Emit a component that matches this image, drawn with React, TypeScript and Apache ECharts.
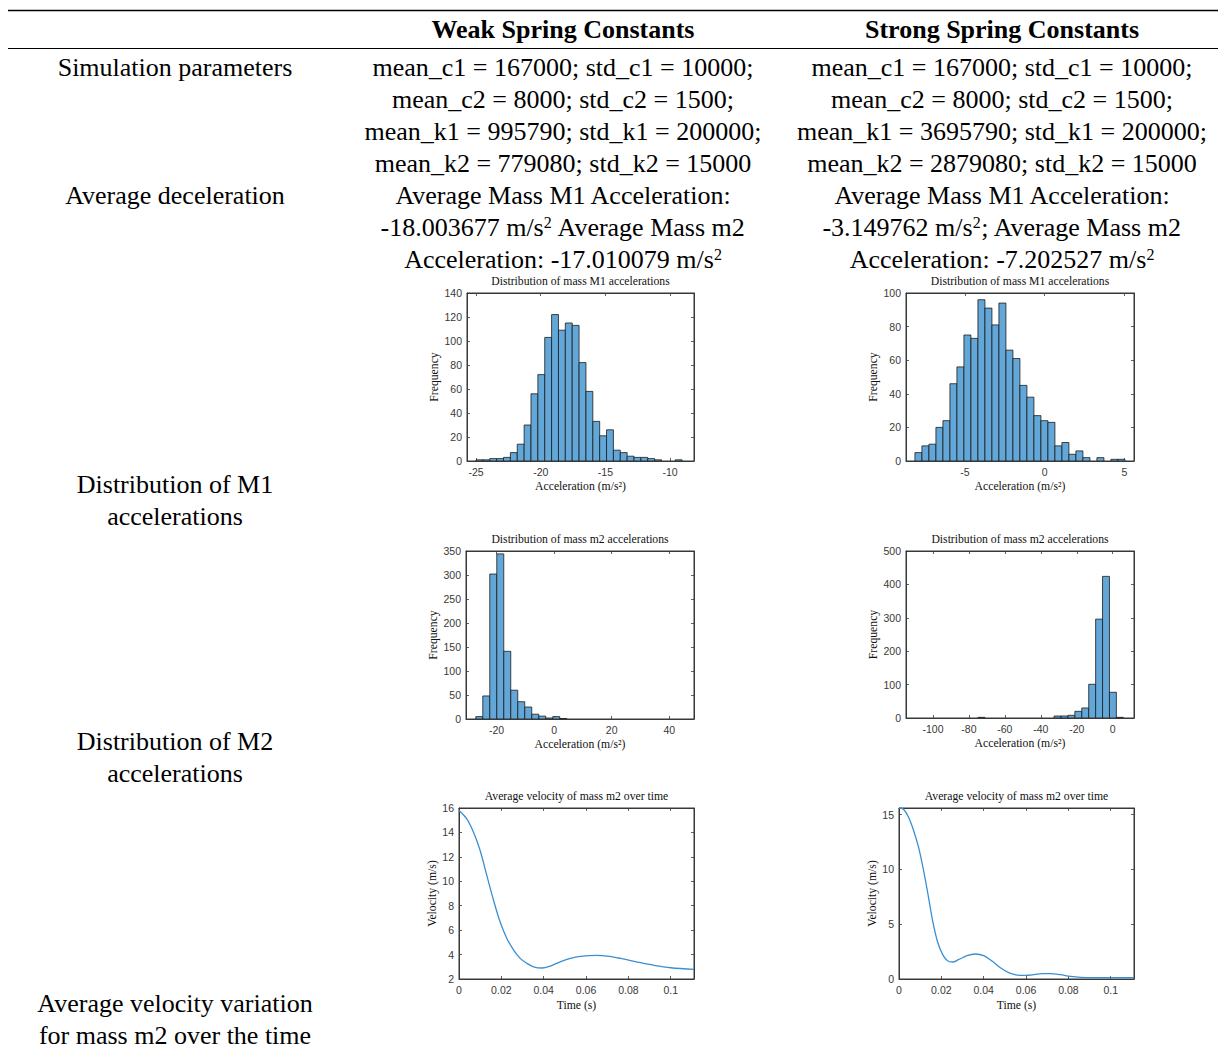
import React, { useEffect, useRef } from "react";
import * as echarts from "echarts";

// ---------- table text ----------
const colHeaders = ["Weak Spring Constants", "Strong Spring Constants"];
const rowLabelLines = [
  ["Simulation parameters"],
  ["Average deceleration"],
  ["Distribution of M1", "accelerations"],
  ["Distribution of M2", "accelerations"],
  ["Average velocity variation", "for mass m2 over the time"],
];
const weakParams = [
  "mean_c1 = 167000; std_c1 = 10000;",
  "mean_c2 = 8000; std_c2 = 1500;",
  "mean_k1 = 995790; std_k1 = 200000;",
  "mean_k2 = 779080; std_k2 = 15000",
];
const strongParams = [
  "mean_c1 = 167000; std_c1 = 10000;",
  "mean_c2 = 8000; std_c2 = 1500;",
  "mean_k1 = 3695790; std_k1 = 200000;",
  "mean_k2 = 2879080; std_k2 = 15000",
];
const weakDecel = [
  "Average Mass M1 Acceleration:",
  "-18.003677 m/s{sup|2} Average Mass m2",
  "Acceleration: -17.010079 m/s{sup|2}",
];
const strongDecel = [
  "Average Mass M1 Acceleration:",
  "-3.149762 m/s{sup|2}; Average Mass m2",
  "Acceleration: -7.202527 m/s{sup|2}",
];

// ---------- chart titles / labels ----------
const chartTitles = [
  "Distribution of mass M1 accelerations",
  "Distribution of mass M1 accelerations",
  "Distribution of mass m2 accelerations",
  "Distribution of mass m2 accelerations",
  "Average velocity of mass m2 over time",
  "Average velocity of mass m2 over time",
];
const accelLabel = "Acceleration (m/s²)";
const freqLabel = "Frequency";
const timeLabel = "Time (s)";
const velLabel = "Velocity (m/s)";

// ---------- histogram data ----------
const weakM1BinStart = -25;
const weakM1BinWidth = 0.531;
const weakM1Counts = [1, 1, 2, 2, 3, 7, 14, 30, 56, 72, 103, 122, 109, 115, 113, 82, 58, 33, 21, 26, 9, 7, 4, 3, 3, 2, 1, 0, 0, 1];

const strongM1BinStart = -8.14;
const strongM1BinWidth = 0.439;
const strongM1Counts = [5, 9, 10, 20, 24, 46, 56, 75, 73, 96, 91, 81, 94, 66, 61, 45, 38, 27, 24, 23, 9, 11, 4, 6, 2, 0, 2, 0, 1, 1];

const weakM2BinStart = -27.2;
const weakM2BinWidth = 2.43;
const weakM2Counts = [5, 48, 302, 344, 141, 60, 36, 25, 10, 6, 2, 5, 1];

const strongM2BinStart = -74.95;
const strongM2BinWidth = 3.85;
const strongM2Counts = [2, 0, 0, 0, 0, 0, 0, 0, 0, 0, 0, 6, 6, 8, 20, 30, 101, 296, 424, 77, 2];

// ---------- velocity data ----------
const weakTime = [0, 0.0036, 0.0068, 0.00995, 0.0131, 0.0163, 0.0194, 0.0226, 0.0258, 0.0289, 0.0321, 0.0352, 0.0392, 0.0431, 0.0479, 0.0526, 0.0573, 0.0652, 0.07, 0.0763, 0.0842, 0.0921, 0.1, 0.111];
const weakVel = [15.8, 15.13, 14.04, 12.54, 10.5, 8.45, 6.68, 5.32, 4.37, 3.69, 3.28, 3.0, 2.9, 3.06, 3.41, 3.69, 3.85, 3.93, 3.88, 3.69, 3.39, 3.12, 2.92, 2.79];

const strongTime = [0, 0.002, 0.0044, 0.0068, 0.0092, 0.0115, 0.0139, 0.016, 0.0182, 0.0207, 0.0229, 0.0253, 0.0281, 0.0321, 0.036, 0.04, 0.0439, 0.0479, 0.0518, 0.0558, 0.0597, 0.0637, 0.0676, 0.0716, 0.0763, 0.081, 0.0858, 0.092, 0.1016, 0.111];
const strongVel = [15.6, 15.5, 14.8, 13.6, 12.05, 10.0, 7.5, 5.2, 3.4, 2.2, 1.67, 1.55, 1.76, 2.13, 2.28, 2.13, 1.64, 1.03, 0.58, 0.36, 0.33, 0.39, 0.49, 0.49, 0.39, 0.24, 0.15, 0.12, 0.12, 0.12];

// ---------- axis ranges / ticks ----------
const xRanges = [
  [-25.7, -8.15],
  [-8.7, 5.6],
  [-30.6, 48.6],
  [-115, 11.85],
  [0, 0.111],
  [0, 0.111],
];
const xTicks = [
  [-25, -20, -15, -10],
  [-5, 0, 5],
  [-20, 0, 20, 40],
  [-100, -80, -60, -40, -20, 0],
  [0, 0.02, 0.04, 0.06, 0.08, 0.1],
  [0, 0.02, 0.04, 0.06, 0.08, 0.1],
];
const yRanges = [
  [0, 140],
  [0, 100],
  [0, 350],
  [0, 500],
  [2, 16],
  [0, 15.6],
];
const yTicks = [
  [0, 20, 40, 60, 80, 100, 120, 140],
  [0, 20, 40, 60, 80, 100],
  [0, 50, 100, 150, 200, 250, 300, 350],
  [0, 100, 200, 300, 400, 500],
  [2, 4, 6, 8, 10, 12, 14, 16],
  [0, 5, 10, 15],
];

const grids = [
  { left: 467, top: 293, width: 227, height: 168 },
  { left: 906, top: 293, width: 228, height: 168 },
  { left: 466, top: 551, width: 228, height: 168 },
  { left: 906, top: 551, width: 228, height: 167 },
  { left: 459, top: 808, width: 235, height: 171 },
  { left: 899, top: 808, width: 235, height: 171 },
];

const SERIF = "'Liberation Serif', 'Times New Roman', serif";
const SANS = "'Liberation Sans', Arial, sans-serif";
const AXIS_COLOR = "#383838";
const BAR_FILL = "#62a7d8";
const LINE_COLOR = "#3a8fd3";
const SMALL_SERIF = 11.7;

function binsToData(start: number, width: number, counts: number[]) {
  return counts.map((c, i) => [start + i * width, start + (i + 1) * width, c]);
}

const histRender = (params: any, api: any) => {
  const c = api.value(2);
  if (!c) return null;
  const p0 = api.coord([api.value(0), c]);
  const p1 = api.coord([api.value(1), 0]);
  return {
    type: "rect",
    shape: { x: p0[0], y: p0[1], width: p1[0] - p0[0], height: p1[1] - p0[1] },
    style: { fill: BAR_FILL, stroke: "#1c1c1c", lineWidth: 0.8 },
  };
};

export default function App() {
  const ref = useRef<HTMLDivElement>(null);

  useEffect(() => {
    if (!ref.current) return;
    const chart = echarts.init(ref.current, undefined, { renderer: "svg" });

    const xAxis: any[] = [];
    const yAxis: any[] = [];
    grids.forEach((_, i) => {
      const isVel = i >= 4;
      const baseTick = { show: true, inside: true, length: 3, lineStyle: { color: AXIS_COLOR, width: 0.8 } };
      const line = { show: true, onZero: false, lineStyle: { color: AXIS_COLOR, width: 1 } };
      xAxis.push({
        type: "value",
        gridIndex: i,
        position: "bottom",
        min: xRanges[i][0],
        max: xRanges[i][1],
        name: isVel ? timeLabel : accelLabel,
        nameLocation: "middle",
        nameGap: isVel ? 20 : 19,
        nameTextStyle: { fontFamily: SERIF, fontSize: SMALL_SERIF, color: "#111" },
        axisLine: line,
        axisTick: { ...baseTick, customValues: xTicks[i] },
        axisLabel: { customValues: xTicks[i], fontFamily: SANS, fontSize: 10.5, color: AXIS_COLOR, margin: 5 },
        splitLine: { show: false },
      });
      xAxis.push({
        type: "value",
        gridIndex: i,
        position: "top",
        min: xRanges[i][0],
        max: xRanges[i][1],
        axisLine: line,
        axisTick: { ...baseTick, customValues: xTicks[i] },
        axisLabel: { show: false, customValues: xTicks[i] },
        splitLine: { show: false },
      });
      yAxis.push({
        type: "value",
        gridIndex: i,
        position: "left",
        min: yRanges[i][0],
        max: yRanges[i][1],
        name: isVel ? velLabel : freqLabel,
        nameLocation: "middle",
        nameGap: isVel ? 19 : 27,
        nameTextStyle: { fontFamily: SERIF, fontSize: SMALL_SERIF, color: "#111" },
        axisLine: line,
        axisTick: { ...baseTick, customValues: yTicks[i] },
        axisLabel: { customValues: yTicks[i], fontFamily: SANS, fontSize: 10.5, color: AXIS_COLOR, margin: 5 },
        splitLine: { show: false },
      });
      yAxis.push({
        type: "value",
        gridIndex: i,
        position: "right",
        min: yRanges[i][0],
        max: yRanges[i][1],
        axisLine: line,
        axisTick: { ...baseTick, customValues: yTicks[i] },
        axisLabel: { show: false, customValues: yTicks[i] },
        splitLine: { show: false },
      });
    });

    const histData = [
      binsToData(weakM1BinStart, weakM1BinWidth, weakM1Counts),
      binsToData(strongM1BinStart, strongM1BinWidth, strongM1Counts),
      binsToData(weakM2BinStart, weakM2BinWidth, weakM2Counts),
      binsToData(strongM2BinStart, strongM2BinWidth, strongM2Counts),
    ];

    const series: any[] = histData.map((d, i) => ({
      type: "custom",
      coordinateSystem: "cartesian2d",
      xAxisIndex: 2 * i,
      yAxisIndex: 2 * i,
      renderItem: histRender,
      encode: { x: [0, 1], y: 2 },
      data: d,
      clip: true,
      silent: true,
    }));
    const velSets = [
      weakTime.map((t, k) => [t, weakVel[k]]),
      strongTime.map((t, k) => [t, strongVel[k]]),
    ];
    velSets.forEach((d, j) => {
      const i = 4 + j;
      series.push({
        type: "line",
        xAxisIndex: 2 * i,
        yAxisIndex: 2 * i,
        data: d,
        smooth: 0.35,
        showSymbol: false,
        symbol: "none",
        lineStyle: { color: LINE_COLOR, width: 1.3 },
        silent: true,
      });
    });

    // ---------- table graphics ----------
    const g: any[] = [];
    const rowFont = { fontFamily: SERIF, fontSize: 26, fill: "#000" };
    const supRich = { sup: { fontFamily: SERIF, fontSize: 16, verticalAlign: "top", lineHeight: 14, fill: "#000" } };
    g.push({ type: "line", shape: { x1: 8, y1: 10.5, x2: 1218, y2: 10.5 }, style: { stroke: "#000", lineWidth: 1.6 } });
    g.push({ type: "line", shape: { x1: 8, y1: 48.5, x2: 1218, y2: 48.5 }, style: { stroke: "#000", lineWidth: 1 } });
    const colX = [563, 1002];
    colHeaders.forEach((h, i) => {
      g.push({ type: "text", x: colX[i], y: 29, style: { ...rowFont, fontWeight: "bold", text: h, align: "center", verticalAlign: "middle" } });
    });
    const leftX = 175;
    const leftY = [[67], [195], [484, 516], [741, 773], [1003, 1035]];
    rowLabelLines.forEach((lines, r) => {
      lines.forEach((t, k) => {
        g.push({ type: "text", x: leftX, y: leftY[r][k], style: { ...rowFont, text: t, align: "center", verticalAlign: "middle" } });
      });
    });
    const paramY = [67, 99, 131, 163];
    [weakParams, strongParams].forEach((arr, c) => {
      arr.forEach((t, k) => {
        g.push({ type: "text", x: colX[c], y: paramY[k], style: { ...rowFont, text: t, align: "center", verticalAlign: "middle" } });
      });
    });
    const decelY = [195, 227, 259];
    [weakDecel, strongDecel].forEach((arr, c) => {
      arr.forEach((t, k) => {
        g.push({ type: "text", x: colX[c], y: decelY[k], style: { ...rowFont, text: t, rich: supRich, align: "center", verticalAlign: "middle" } });
      });
    });
    grids.forEach((gr, i) => {
      g.push({
        type: "text",
        x: gr.left + gr.width / 2,
        y: gr.top - 12,
        style: { fontFamily: SERIF, fontSize: SMALL_SERIF, fill: "#111", text: chartTitles[i], align: "center", verticalAlign: "middle" },
      });
    });

    chart.setOption({
      animation: false,
      backgroundColor: "#ffffff",
      grid: grids.map((gr) => ({ ...gr, show: true, borderColor: AXIS_COLOR, borderWidth: 1, containLabel: false })),
      xAxis,
      yAxis,
      series,
      graphic: g,
    });

    return () => chart.dispose();
  }, []);

  return (
    <div
      ref={ref}
      style={{ position: "fixed", left: 0, top: 0, width: 1218, height: 1048, background: "#fff" }}
    />
  );
}
